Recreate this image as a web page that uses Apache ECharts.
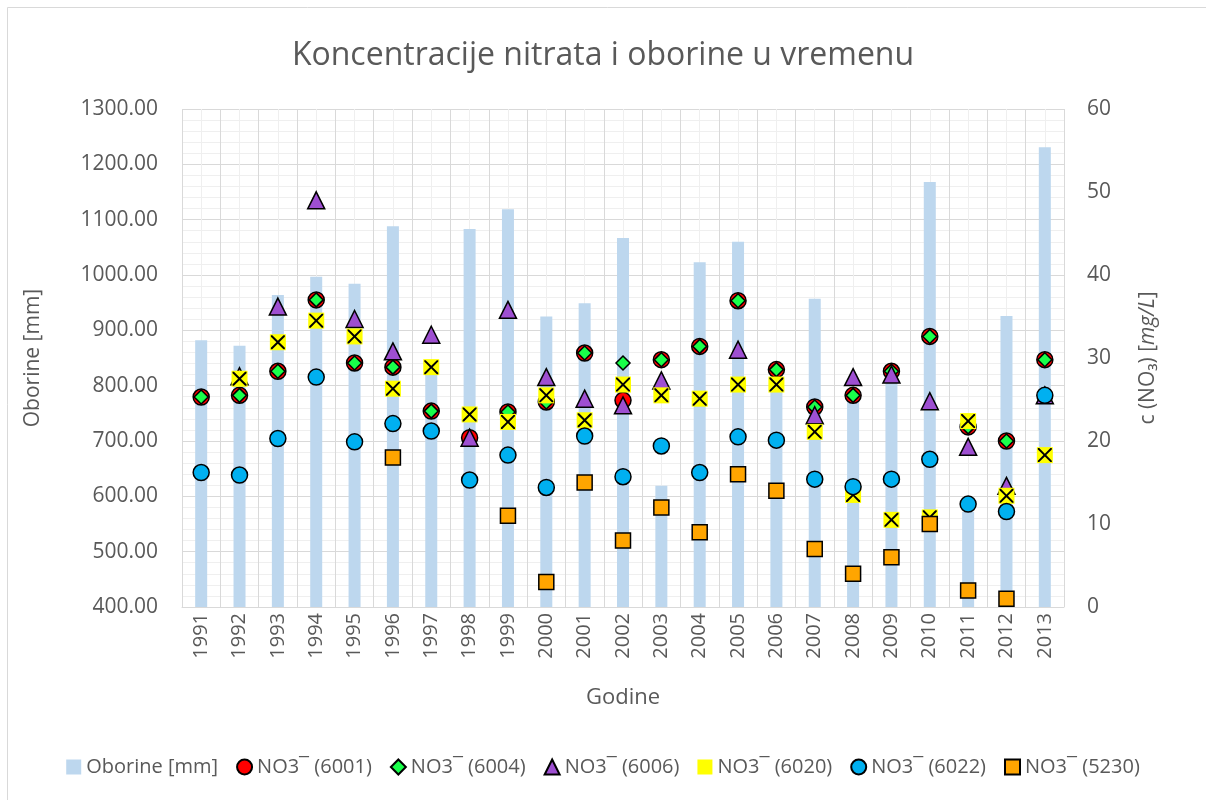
<!DOCTYPE html>
<html>
<head>
<meta charset="utf-8">
<title>Koncentracije nitrata i oborine u vremenu</title>
<script src="https://cdn.jsdelivr.net/npm/echarts@6/dist/echarts.min.js"></script>
<style>
    html, body { margin: 0; padding: 0; background: #fff; }
    #chart { width: 1206px; height: 800px; }
</style>
</head>
<body>
<div id="chart"></div>
<script>
// godine
var years = ['1991', '1992', '1993', '1994', '1995', '1996', '1997', '1998', '1999', '2000', '2001',
    '2002', '2003', '2004', '2005', '2006', '2007', '2008', '2009', '2010', '2011', '2012', '2013'];

// oborine [mm] - lijeva os
var oborine = [882, 872, 964, 997, 984, 1088, 820, 1083, 1119, 925, 949,
    1067, 619, 1023, 1060, 815, 957, 785, 820, 1168, 572, 926, 1231];

// NO3 [mg/L] - desna os
var no3_6001 = [25.3, 25.5, 28.4, 37.0, 29.4, 28.9, 23.6, 20.4, 23.5, 24.7, 30.6,
    24.9, 29.8, 31.4, 36.9, 28.6, 24.1, 25.5, 28.4, 32.6, 21.7, 20.0, 29.8];
var no3_6004 = [25.3, 25.5, 28.4, 37.0, 29.4, 28.9, 23.6, null, 23.5, 24.7, 30.6,
    29.4, 29.8, 31.4, 36.9, 28.6, 24.1, 25.5, 28.4, 32.6, 21.7, 20.0, 29.8];
var no3_6006 = [null, 27.8, 36.2, 49.0, 34.7, 30.8, 32.8, 20.4, 35.8, 27.7, 25.1,
    24.3, 27.3, null, 31.0, null, 23.1, 27.7, 28.0, 24.8, 19.3, 14.6, 25.5];
var no3_6020 = [null, 27.5, 31.9, 34.5, 32.6, 26.3, 28.9, 23.2, 22.3, 25.5, 22.5,
    26.8, 25.5, 25.1, 26.8, 26.8, 21.1, 13.5, 10.5, 10.8, 22.4, 13.4, 18.3];
var no3_6022 = [16.2, 15.9, 20.3, 27.7, 19.9, 22.1, 21.2, 15.3, 18.3, 14.4, 20.6,
    15.7, 19.4, 16.2, 20.5, 20.1, 15.4, 14.5, 15.4, 17.8, 12.4, 11.5, 25.5];
var no3_5230 = [null, null, null, null, null, 18.0, null, null, 11.0, 3.0, 15.0,
    8.0, 12.0, 9.0, 16.0, 14.0, 7.0, 4.0, 6.0, 10.0, 2.0, 1.0, null];

var names = ['Oborine [mm]', 'NO3¯ (6001)', 'NO3¯ (6004)', 'NO3¯ (6006)', 'NO3¯ (6020)', 'NO3¯ (6022)', 'NO3¯ (5230)'];

var FONT = 'Open Sans';
var GREY = '#595959';
var xMark = 'path://M0,0 L2,0 L10,8 L18,0 L20,0 L20,2 L12,10 L20,18 L20,20 L18,20 L10,12 L2,20 L0,20 L0,18 L8,10 L0,2 Z';

function marker(name, data, symbol, size, color) {
    return {
        name: name,
        type: 'scatter',
        xAxisIndex: 0,
        yAxisIndex: 1,
        data: data,
        symbol: symbol,
        symbolSize: size,
        itemStyle: {color: color, borderColor: '#000', borderWidth: 1.5, opacity: 1},
        emphasis: {disabled: true}
    };
}

var chart = echarts.init(document.getElementById('chart'));
var option = {
    backgroundColor: '#fff',
    animation: false,
    textStyle: {fontFamily: FONT},
    graphic: [{
        type: 'rect',
        shape: {x: 7.5, y: 7.5, width: 1220, height: 820},
        style: {fill: 'none', stroke: '#d9d9d9', lineWidth: 1},
        silent: true
    }],
    title: {
        text: 'Koncentracije nitrata i oborine u vremenu',
        left: 'center',
        top: 35,
        textStyle: {fontFamily: FONT, fontSize: 32, fontWeight: 'normal', color: GREY}
    },
    legend: {
        bottom: 18,
        left: 'center',
        itemGap: 18,
        itemWidth: 15,
        itemHeight: 15,
        textStyle: {fontFamily: FONT, fontSize: 20, color: GREY},
        data: [
            {name: names[0], icon: 'rect'},
            {name: names[1]},
            {name: names[2]},
            {name: names[3]},
            {name: names[4]},
            {name: names[5]},
            {name: names[6]}
        ]
    },
    grid: {left: 182, right: 142, top: 109, bottom: 193},
    xAxis: [{
        type: 'category',
        data: years,
        boundaryGap: true,
        name: 'Godine',
        nameLocation: 'middle',
        nameGap: 80,
        nameTextStyle: {fontFamily: FONT, fontSize: 22, color: GREY},
        axisLine: {lineStyle: {color: '#d9d9d9'}},
        axisTick: {show: false},
        axisLabel: {rotate: 90, margin: 6, fontFamily: FONT, fontSize: 20, color: GREY},
        splitLine: {show: false}
    }, {
        // pomocna os samo za okomite linije mreze
        type: 'value',
        position: 'bottom',
        min: 0,
        max: 46,
        interval: 2,
        axisLine: {show: false},
        axisTick: {show: false},
        axisLabel: {show: false},
        splitLine: {show: true, lineStyle: {color: '#d9d9d9', width: 1}},
        minorTick: {show: false, splitNumber: 2},
        minorSplitLine: {show: true, lineStyle: {color: '#efefef', width: 1}}
    }],
    yAxis: [{
        type: 'value',
        min: 400,
        max: 1300,
        interval: 100,
        name: 'Oborine [mm]',
        nameLocation: 'middle',
        nameGap: 138,
        nameRotate: 90,
        nameTextStyle: {fontFamily: FONT, fontSize: 21, color: GREY},
        axisLine: {show: false},
        axisTick: {show: false},
        axisLabel: {
            margin: 24,
            fontFamily: FONT,
            fontSize: 21,
            color: GREY,
            formatter: function (v) { return v.toFixed(2); }
        },
        splitLine: {lineStyle: {color: '#d9d9d9', width: 1}},
        minorTick: {show: false, splitNumber: 5},
        minorSplitLine: {show: true, lineStyle: {color: '#efefef', width: 1}}
    }, {
        type: 'value',
        min: 0,
        max: 60,
        interval: 10,
        position: 'right',
        name: '{a|c (NO₃) [}{b|mg/L}{a|]}',
        nameLocation: 'middle',
        nameGap: 74,
        nameRotate: 90,
        nameTextStyle: {
            rich: {
                a: {fontFamily: FONT, fontSize: 21, color: GREY},
                b: {fontFamily: FONT, fontSize: 21, color: GREY, fontStyle: 'italic'}
            }
        },
        axisLine: {show: false},
        axisTick: {show: false},
        axisLabel: {margin: 23, fontFamily: FONT, fontSize: 21, color: GREY},
        splitLine: {show: false}
    }],
    series: [
        {
            name: names[0],
            type: 'bar',
            xAxisIndex: 0,
            yAxisIndex: 0,
            data: oborine,
            barWidth: 12,
            itemStyle: {color: '#bdd7ee'},
            emphasis: {disabled: true}
        },
        marker(names[1], no3_6001, 'circle', 16, '#ff0000'),
        marker(names[2], no3_6004, 'diamond', 14, '#19ff4a'),
        marker(names[3], no3_6006, 'triangle', 17, '#9e4fd1'),
        {
            name: names[4],
            type: 'scatter',
            xAxisIndex: 0,
            yAxisIndex: 1,
            data: no3_6020,
            symbol: 'rect',
            symbolSize: 16,
            itemStyle: {color: '#ffff00', opacity: 1},
            emphasis: {disabled: true}
        },
        {
            name: 'x6020',
            type: 'scatter',
            xAxisIndex: 0,
            yAxisIndex: 1,
            data: no3_6020,
            symbol: xMark,
            symbolSize: 14,
            itemStyle: {color: '#000', opacity: 1},
            emphasis: {disabled: true}
        },
        marker(names[5], no3_6022, 'circle', 16, '#00b0f0'),
        marker(names[6], no3_5230, 'rect', 15, '#ffa500')
    ]
};
chart.setOption(option);
</script>
</body>
</html>
